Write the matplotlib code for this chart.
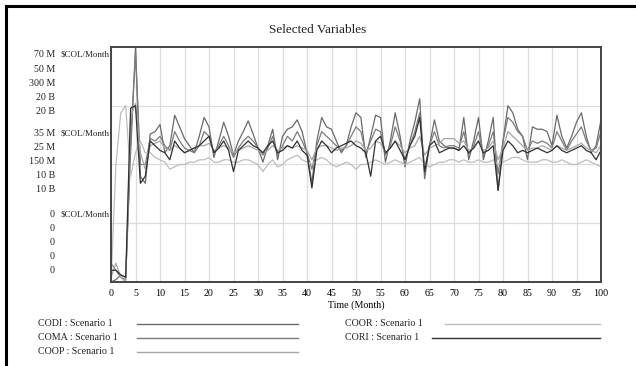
import numpy as np
import matplotlib
matplotlib.use("Agg")
import matplotlib.pyplot as plt
from matplotlib.lines import Line2D
from matplotlib.transforms import offset_copy

time = list(range(0, 101))

# CODI ($COL/Month, millions)
codi = [0, 0.7, 2.1, 1.4, 38.5, 70, 31.5, 29.4, 44.1, 44.8, 46.9, 38.5, 40.6, 49.7, 46.2, 42.7, 40.6, 38.5, 43.4, 49,
        46.2, 37.1, 42, 47.6, 43.4, 37.8, 42, 44.8, 48, 44.1, 39.9, 35.7, 40.6, 45.5, 36.4, 43.4, 45.5, 46.2, 48.3, 44.8,
        38.5, 29.4, 42, 49, 46.2, 45.5, 42, 38.5, 40.6, 46.2, 50.4, 49, 37.1, 43.4, 49.7, 49, 35.7, 42, 50.4, 43.4,
        34.3, 42, 47.6, 54.6, 30.8, 40.6, 48.3, 42, 40.6, 39.9, 39.9, 39.2, 49, 36.4, 42, 49, 36.4, 42, 49, 27.3,
        42, 52.5, 50.4, 45.5, 43.4, 36.4, 46.2, 45.5, 45.5, 44.8, 40.6, 49.7, 43.4, 39.9, 43.4, 47.6, 50.4, 43.4, 38.5, 40.6,
        48.3]
# COMA ($COL/Month, millions)
coma = [4, 2.5, 1, 0.5, 30, 48.5, 25, 25, 30.5, 30, 31, 29, 28, 32, 30, 28.5, 28, 27.5, 29, 32,
        31, 27.5, 29, 31, 29, 26.5, 28.5, 30, 31, 30, 28.5, 27, 28.5, 31, 27, 29, 31, 30, 32, 30,
        27.5, 24, 29, 32, 31, 30, 29, 28, 29, 31, 33, 32, 27.5, 30, 32.5, 32, 27, 29, 33, 30,
        26, 29, 32, 36, 24, 29, 32, 29, 28.5, 29, 29, 28.5, 32, 27, 29, 32, 27, 29, 32, 23,
        30, 35, 34, 32, 31, 28, 30, 29.5, 30, 29.5, 28.5, 32, 30, 28, 30, 31.5, 33, 30, 28, 28.5,
        32]
# COOP ($COL/Month, millions)
coop = [6, 24, 6, 0, 210, 228, 165, 144, 174, 177, 180, 171, 168, 174, 171, 165, 168, 171, 174, 174,
        177, 168, 171, 174, 171, 165, 168, 171, 174, 171, 168, 165, 168, 174, 168, 171, 174, 171, 174, 171,
        168, 156, 171, 174, 174, 171, 168, 171, 171, 174, 180, 177, 168, 171, 180, 177, 165, 171, 180, 174,
        165, 171, 174, 186, 162, 171, 174, 177, 183, 183, 183, 177, 180, 168, 171, 180, 168, 171, 180, 156,
        171, 192, 186, 180, 174, 168, 171, 171, 174, 171, 168, 174, 171, 168, 171, 174, 177, 171, 168, 165,
        174]
# COOR ($COL/Month, billions)
coor = [0, 10, 14.4, 15, 9, 11, 12, 11, 11, 10.6, 10.4, 10.2, 9.6, 9.8, 10, 10, 10.2, 10.2, 10.4, 10.4,
        10.6, 10.2, 10.2, 10.4, 10.4, 10.2, 10.2, 10.4, 10.4, 10.2, 10, 9.4, 10, 10.4, 9.8, 10, 10.4, 10.6, 10.8, 10.4,
        10.2, 10, 10.4, 10.6, 10.4, 10, 9.8, 10, 10.2, 10, 9.6, 10, 10, 10.2, 10.4, 10.2, 10, 10.2, 10.4, 10.2,
        10, 10.2, 10.4, 10.6, 10, 9.8, 10, 10.2, 10.2, 10.4, 10.4, 10.2, 10.4, 10.2, 10.2, 10.4, 10.2, 10.2, 10.4, 10,
        10.2, 10.4, 10.6, 10.6, 10.4, 10.2, 10.2, 10.2, 10.4, 10.4, 10.2, 10.2, 10.4, 10.2, 10, 10, 10.2, 10.4, 10.2, 10,
        9.8]
# CORI ($COL/Month, billions)
cori = [1, 1, 0.6, 0.4, 14.8, 15, 8.4, 9, 12, 11.6, 11.2, 11, 10.4, 12, 11.4, 11, 11.2, 11.4, 11.6, 12,
        12.4, 11, 11.4, 12, 11.2, 9.4, 11.2, 11.6, 12, 11.6, 11.4, 11, 11.6, 12, 11, 11.2, 11.6, 11.4, 12, 11.2,
        10.8, 8, 11.2, 12, 11.6, 11, 11.4, 11.6, 11.8, 12, 11.6, 11.4, 11, 9, 12, 12.4, 11, 11.4, 12, 11.2,
        10.4, 11.6, 12.4, 14, 9.4, 11.6, 12, 11, 11.2, 11.4, 11.4, 11.2, 11.6, 11, 11.4, 12, 11, 11.2, 11.6, 7.8,
        11.2, 12, 11.6, 11, 11.2, 11, 11.2, 11.4, 11.2, 11, 11.2, 11.6, 11.2, 11, 11.2, 11.4, 11.6, 11.2, 11, 10.4,
        11.2]

names = ["CODI", "COMA", "COOP", "COOR", "CORI"]
series = [codi, coma, coop, coor, cori]
scale_max = [70, 50, 300, 20, 20]
top_labels = ["70 M", "50 M", "300 M", "20 B", "20 B"]
mid_labels = ["35 M", "25 M", "150 M", "10 B", "10 B"]
bot_labels = ["0", "0", "0", "0", "0"]
unit = "$COL/Month"
x_ticks = list(range(0, 101, 5))
colors = ["#6a6a6a", "#7c7c7c", "#a6a6a6", "#bdbdbd", "#303030"]

serif = ["Liberation Serif", "DejaVu Serif"]

W, H = 636, 366
fig = plt.figure(figsize=(W / 100, H / 100), dpi=100)
fig.patch.set_facecolor("white")

ax = fig.add_axes([111 / W, 1 - 282 / H, 490 / W, 235 / H])
for s, m, c in zip(series, scale_max, colors):
    ax.plot(time, np.asarray(s, dtype=float) / m, color=c, lw=0.9)

ax.set_xlim(0, 100)
ax.set_ylim(0, 1)
ax.set_xticks(x_ticks)
ax.set_xticklabels([str(t) for t in x_ticks], fontfamily=serif, fontsize=7.2)
ax.set_yticks([0.25, 0.5, 0.75])
ax.set_yticklabels([])
ax.tick_params(length=0, pad=5)
ax.grid(True, color="#dcdcdc", lw=0.9)
ax.set_axisbelow(True)
for sp in ax.spines.values():
    sp.set_color("#444444")
    sp.set_linewidth(1.4)
ax.set_xlabel("Time (Month)", fontfamily=serif, fontsize=7.2, labelpad=2)

# stacked y labels
stacks = [(top_labels, 0.966), (mid_labels, 0.634), (bot_labels, 0.289)]
for labels, y0 in stacks:
    for i, lab in enumerate(labels):
        tr = offset_copy(ax.transAxes, fig=fig, x=-56 / 100 * 72, y=-i * 14.2 / 100 * 72, units="points")
        ax.text(0, y0, lab, transform=tr, ha="right", va="center",
                fontfamily=serif, fontsize=7.2, color="#222222")
    tr2 = offset_copy(ax.transAxes, fig=fig, x=-50 / 100 * 72, y=0, units="points")
    ax.text(0, y0, unit, transform=tr2, ha="left", va="center",
            fontfamily=serif, fontsize=6.5, color="#222222")

fig.text(318 / W, 1 - 30 / H, "Selected Variables", ha="center", va="center",
         fontfamily=serif, fontsize=9.5, color="#222222")

# legend
legend_pos = [(38, 324, 137, 298), (38, 338, 137, 298), (38, 352, 137, 298),
              (345, 324, 445, 600), (345, 338, 432, 600)]
for name, c, (tx, ty, lx0, lx1) in zip(names, colors, legend_pos):
    fig.text(tx / W, 1 - ty / H, f"{name} : Scenario 1", ha="left", va="center",
             fontfamily=serif, fontsize=7.2, color="#222222")
    fig.add_artist(Line2D([lx0 / W, lx1 / W], [1 - ty / H, 1 - ty / H],
                          color=c, lw=1.0, transform=fig.transFigure))

# outer frame (left and top)
fig.add_artist(Line2D([6 / W, 6 / W], [0, 1 - 6 / H], color="black", lw=2.2, transform=fig.transFigure))
fig.add_artist(Line2D([6 / W, 1], [1 - 6 / H, 1 - 6 / H], color="black", lw=2.2, transform=fig.transFigure))

fig.savefig("out.png", dpi=100)
